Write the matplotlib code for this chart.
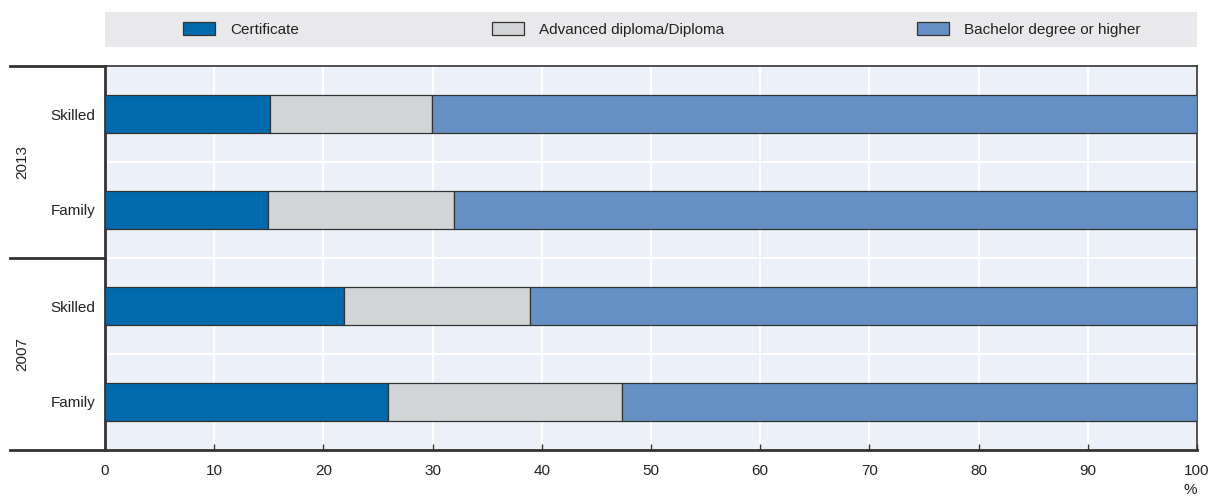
import matplotlib.pyplot as plt
import matplotlib.transforms as mtransforms
from matplotlib.patches import Patch
from matplotlib.lines import Line2D
import numpy as np

plt.rcParams['font.family'] = ['Liberation Sans Narrow', 'Liberation Sans', 'DejaVu Sans']

# rows top -> bottom
rows = ['Skilled', 'Family', 'Skilled', 'Family']
years = ['2013', '2007']
certificate = [15.1, 14.9, 21.9, 25.9]
diploma = [14.8, 17.1, 17.0, 21.4]
bachelor = [70.1, 68.0, 61.1, 52.7]
series_names = ['Certificate', 'Advanced diploma/Diploma', 'Bachelor degree or higher']
colors = ['#006aad', '#d3d4d6', '#6590c5']

fig = plt.figure(figsize=(12.1, 5.03), dpi=100)
ax = fig.add_axes([105/1210, 1 - 450/503, 1092/1210, 384/503])
ax.set_facecolor('#ecf0f8')

ypos = np.arange(len(rows))
left = np.zeros(len(rows))
for vals, col in zip([certificate, diploma, bachelor], colors):
    ax.barh(ypos, vals, left=left, height=0.4, color=col, edgecolor='#333333',
            linewidth=0.9, zorder=3)
    left += np.array(vals)

ax.set_ylim(len(rows) - 0.5, -0.5)
ax.set_xlim(0, 100)
ax.set_xticks(np.arange(0, 101, 10))
ax.set_yticks(ypos)
ax.set_yticklabels(rows, fontsize=11, color='#222222')
ax.set_yticks(np.arange(0.5, len(rows) - 0.5, 1), minor=True)
ax.tick_params(axis='y', which='both', length=0, pad=7)
ax.tick_params(axis='x', direction='in', length=4, width=1, color='#333333',
               labelsize=11, labelcolor='#222222', pad=10)
ax.grid(True, axis='x', which='major', color='white', linewidth=1.6, zorder=1)
ax.grid(True, axis='y', which='minor', color='white', linewidth=1.6, zorder=1)
ax.set_axisbelow(True)
for side, sp in ax.spines.items():
    sp.set_color('#333333')
    sp.set_linewidth(1.2)
ax.spines['left'].set_linewidth(2)
ax.spines['bottom'].set_linewidth(2)

ax.text(1.0, -0.105, '%', transform=ax.transAxes, ha='right', va='center',
        fontsize=11, color='#222222')

# group separators and year labels on the left
trans = mtransforms.blended_transform_factory(fig.transFigure, ax.transData)
for yb in [-0.5, 1.5, 3.5]:
    ax.add_line(Line2D([10/1210, 105/1210], [yb, yb], transform=trans,
                       color='#333333', linewidth=2, clip_on=False))
for i, yr in enumerate(years):
    ax.text(22/1210, 2*i + 0.5, yr, transform=trans, rotation=90,
            ha='center', va='center', fontsize=11, color='#222222')

# legend strip
lax = fig.add_axes([105/1210, 1 - 47/503, 1092/1210, 35/503])
lax.set_facecolor('#e9e9eb')
lax.set_xticks([])
lax.set_yticks([])
for sp in lax.spines.values():
    sp.set_visible(False)
handles = [Patch(facecolor=c, edgecolor='#333333', linewidth=0.9) for c in colors]
lax.legend(handles, series_names, loc='center', ncol=3, frameon=False,
           fontsize=11, columnspacing=12.6, handlelength=2.1, handleheight=0.9,
           handletextpad=1.0, labelcolor='#222222', bbox_to_anchor=(0.51, 0.5))

fig.savefig('out.png', dpi=100)
